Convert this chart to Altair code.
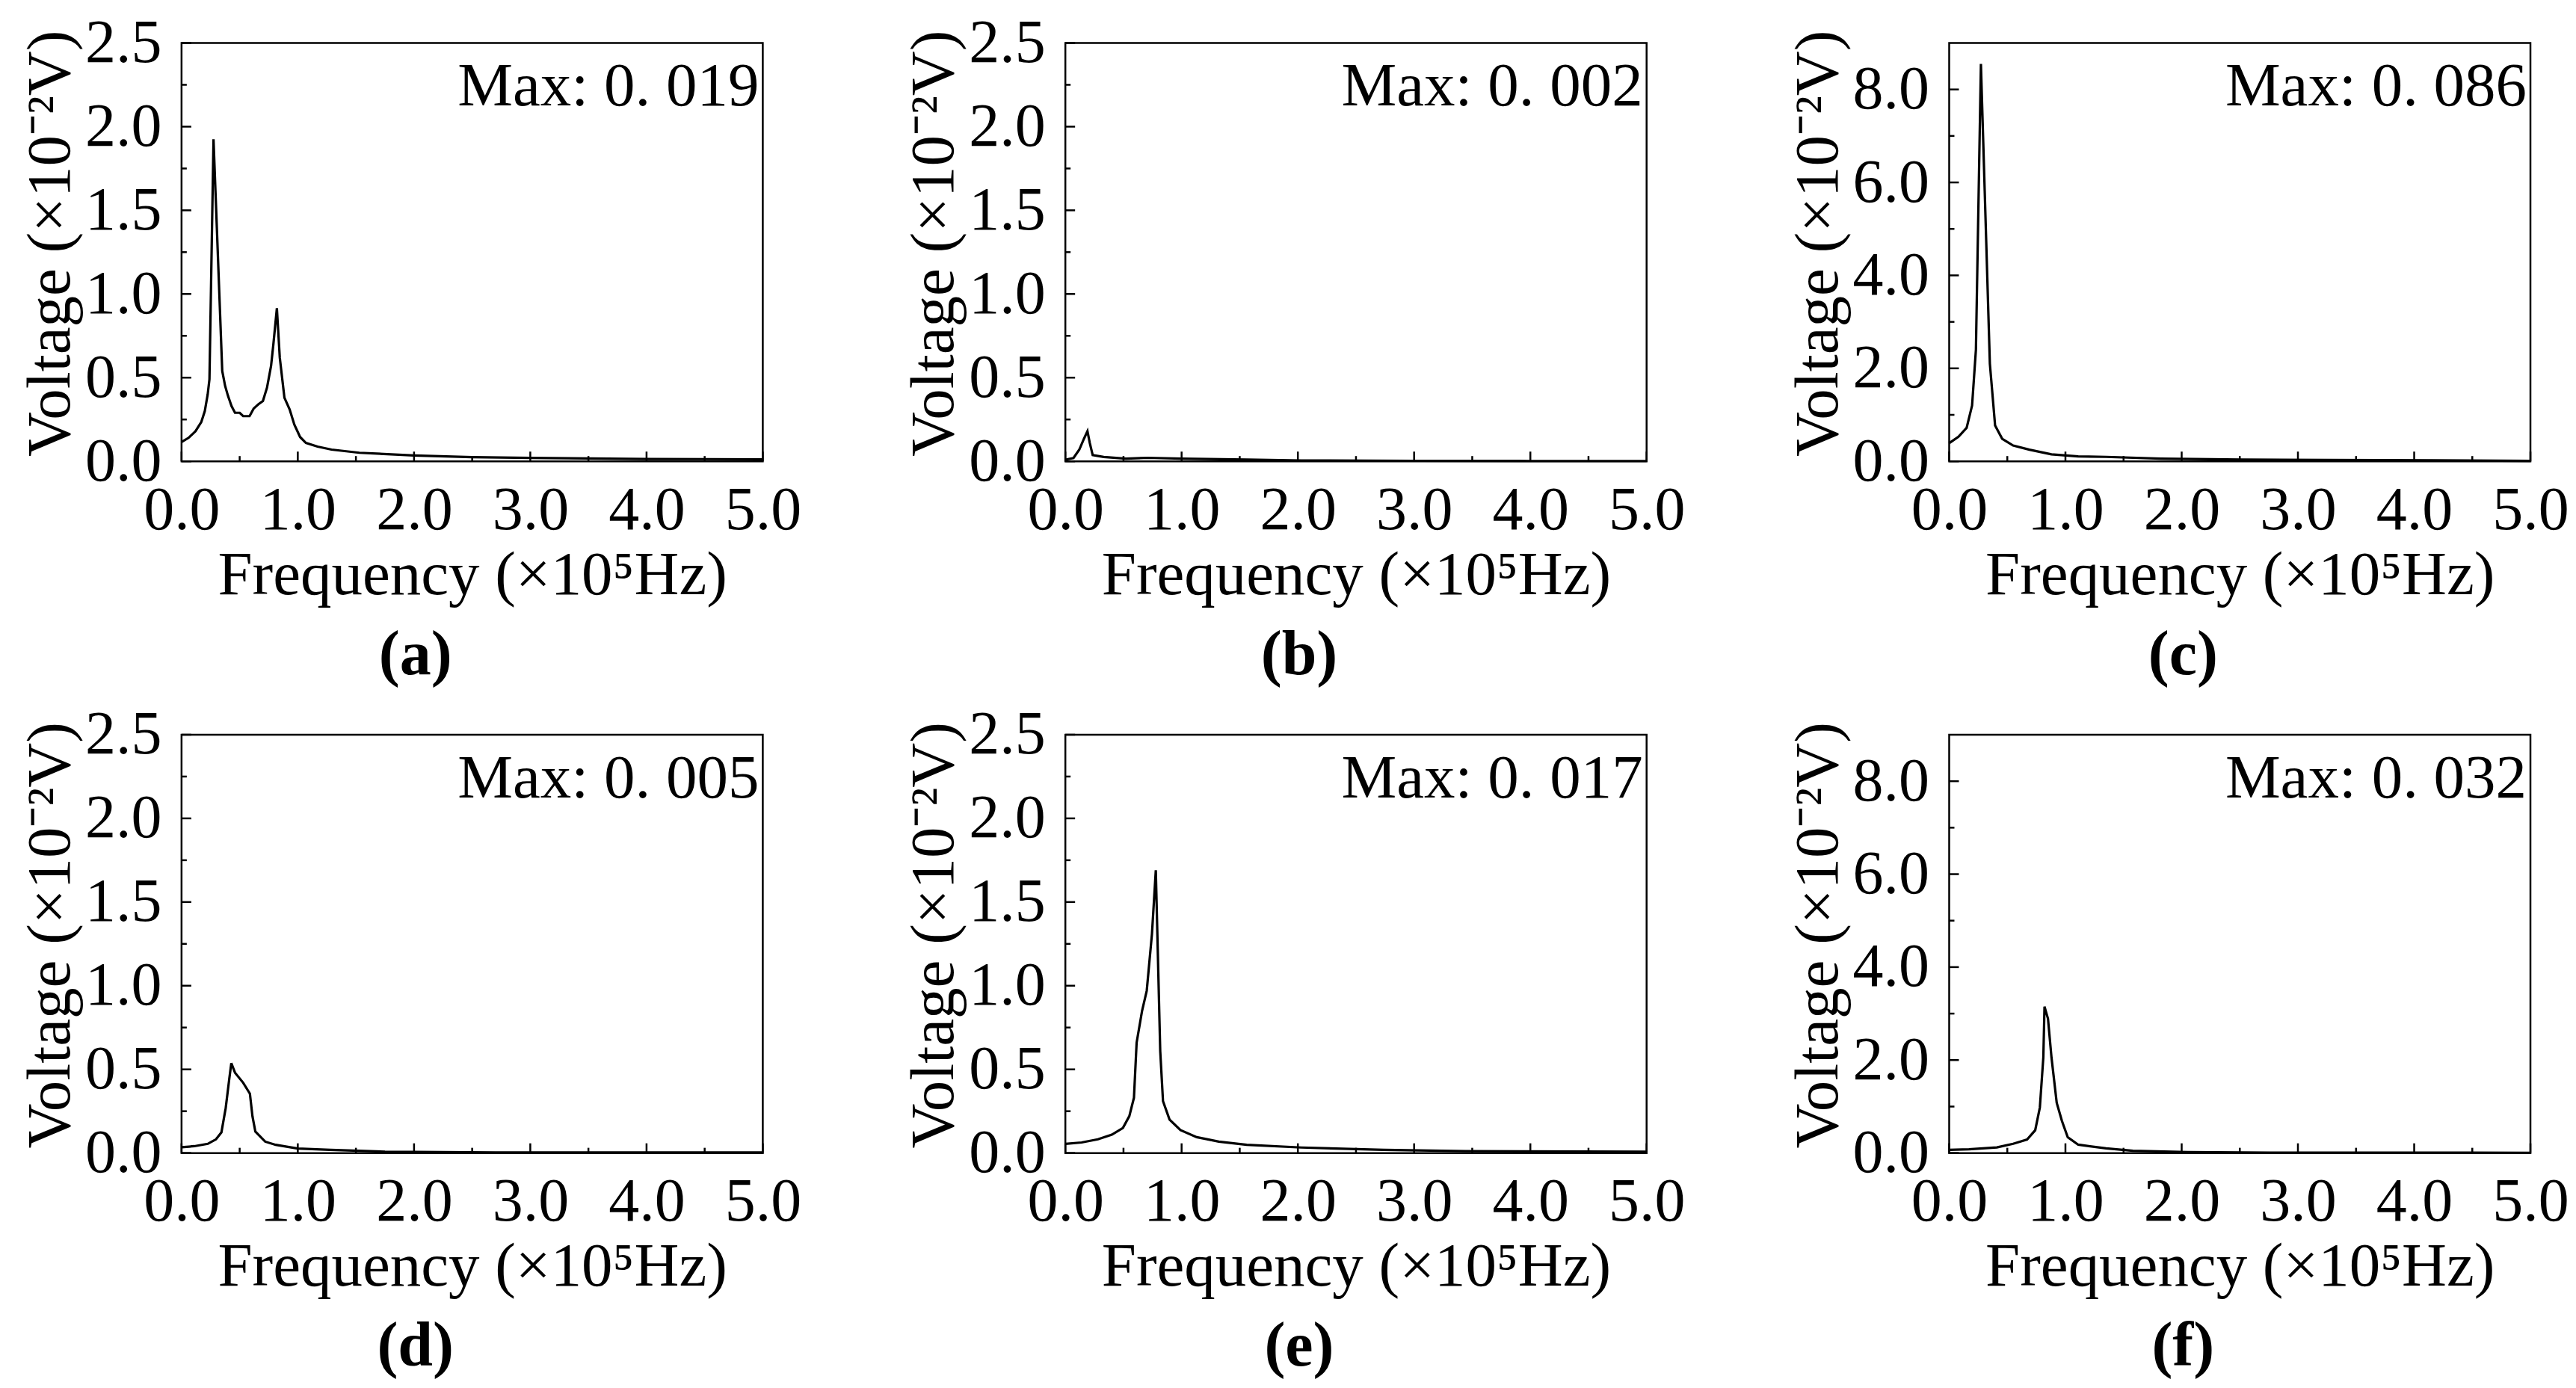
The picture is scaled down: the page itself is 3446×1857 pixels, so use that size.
import altair as alt
import pandas as pd

# ---------------- data ----------------
a_f = [0.00, 0.06, 0.12, 0.17, 0.20, 0.225, 0.24, 0.275, 0.35, 0.375, 0.40, 0.43, 0.46, 0.50, 0.53, 0.585,
       0.62, 0.66, 0.70, 0.735, 0.77, 0.79, 0.82, 0.845, 0.885, 0.93, 0.97, 1.02, 1.07, 1.17, 1.29, 1.53,
       2.00, 2.50, 3.00, 3.50, 4.00, 4.50, 5.00]
a_v = [0.115, 0.14, 0.18, 0.235, 0.30, 0.40, 0.49, 1.925, 0.54, 0.45, 0.39, 0.33, 0.29, 0.29, 0.27, 0.27,
       0.315, 0.34, 0.36, 0.44, 0.57, 0.70, 0.915, 0.62, 0.38, 0.31, 0.22, 0.145, 0.11, 0.088, 0.07, 0.051,
       0.035, 0.025, 0.02, 0.017, 0.014, 0.013, 0.012]

b_f = [0.00, 0.07, 0.12, 0.16, 0.19, 0.21, 0.235, 0.33, 0.52, 0.71, 1.00, 1.56, 2.03, 3.00, 4.00, 5.00]
b_v = [0.01, 0.02, 0.07, 0.135, 0.18, 0.11, 0.037, 0.026, 0.016, 0.021, 0.016, 0.01, 0.005, 0.003, 0.002, 0.002]

c_f = [0.00, 0.08, 0.15, 0.197, 0.23, 0.273, 0.35, 0.395, 0.456, 0.55, 0.69, 0.88, 1.11, 1.35, 1.82, 2.52,
       3.23, 4.17, 5.00]
c_v = [0.39, 0.53, 0.72, 1.2, 2.4, 8.55, 2.1, 0.77, 0.485, 0.34, 0.25, 0.15, 0.105, 0.095, 0.057, 0.038,
       0.03, 0.02, 0.01]

d_f = [0.00, 0.11, 0.226, 0.296, 0.343, 0.38, 0.41, 0.428, 0.46, 0.53, 0.588, 0.61, 0.635, 0.72, 0.81,
       1.00, 1.28, 1.75, 2.70, 5.00]
d_v = [0.035, 0.041, 0.055, 0.082, 0.123, 0.27, 0.44, 0.537, 0.48, 0.42, 0.355, 0.22, 0.128, 0.068, 0.049,
       0.027, 0.019, 0.008, 0.003, 0.003]

e_f = [0.00, 0.14, 0.28, 0.40, 0.495, 0.55, 0.59, 0.613, 0.66, 0.70, 0.745, 0.778, 0.816, 0.84, 0.896,
       0.99, 1.13, 1.32, 1.56, 2.03, 2.74, 3.44, 5.00]
e_v = [0.055, 0.063, 0.082, 0.11, 0.15, 0.22, 0.33, 0.66, 0.85, 0.97, 1.31, 1.69, 0.61, 0.31, 0.2,
       0.137, 0.095, 0.068, 0.049, 0.033, 0.019, 0.011, 0.008]

f_f = [0.00, 0.17, 0.41, 0.55, 0.67, 0.74, 0.78, 0.81, 0.82, 0.85, 0.88, 0.925, 0.97, 1.02, 1.11, 1.35,
       1.58, 2.05, 2.76, 3.88, 5.00]
f_v = [0.07, 0.08, 0.12, 0.2, 0.29, 0.49, 0.98, 2.06, 3.15, 2.89, 2.06, 1.08, 0.69, 0.34, 0.18, 0.1,
       0.05, 0.02, 0.01, 0.01, 0.005]

max_texts = ["Max: 0. 019", "Max: 0. 002", "Max: 0. 086", "Max: 0. 005", "Max: 0. 017", "Max: 0. 032"]
panel_labels = ["(a)", "(b)", "(c)", "(d)", "(e)", "(f)"]

x_domain = [0, 5]
x_major = [0, 1, 2, 3, 4, 5]
x_minor = [0.5, 1.5, 2.5, 3.5, 4.5]
y_small_max = 2.5
y_small_major = [0, 0.5, 1.0, 1.5, 2.0, 2.5]
y_small_minor = [0.25, 0.75, 1.25, 1.75, 2.25]
y_big_max = 9
y_big_major = [0, 2, 4, 6, 8]
y_big_minor = [1, 3, 5, 7]

X_TITLE = "Frequency (×10⁵Hz)"
Y_TITLE = "Voltage (×10⁻²V)"

# ---------------- styling ----------------
W, H = 778, 560
FONT = "Liberation Serif"
MAJ, MIN = 13, 7


def panel(fs, vs, ymax, ymaj, ymin, maxtxt, label):
    xs = alt.Scale(domain=x_domain, nice=False, zero=False)
    ys = alt.Scale(domain=[0, ymax], nice=False)
    xax = alt.Axis(values=x_major, format=".1f", title=X_TITLE, labelFlush=False)
    yax = alt.Axis(values=ymaj, format=".1f", title=Y_TITLE, titleY=H / 2 - 12)

    def X():
        return alt.X("f:Q", scale=xs, axis=xax)

    def Y():
        return alt.Y("v:Q", scale=ys, axis=yax)

    df = pd.DataFrame({"f": fs, "v": vs})
    line = alt.Chart(df).mark_line(color="black", strokeWidth=3.2).encode(x=X(), y=Y())
    ytick = alt.Chart(pd.DataFrame({"v": ymaj})).mark_rule(color="black", strokeWidth=2.5).encode(
        y=Y(), x=alt.value(0), x2=alt.value(MAJ))
    ytick_m = alt.Chart(pd.DataFrame({"v": ymin})).mark_rule(color="black", strokeWidth=2.5).encode(
        y=Y(), x=alt.value(0), x2=alt.value(MIN))
    xtick = alt.Chart(pd.DataFrame({"f": x_major})).mark_rule(color="black", strokeWidth=2.5).encode(
        x=X(), y=alt.value(H), y2=alt.value(H - MAJ))
    xtick_m = alt.Chart(pd.DataFrame({"f": x_minor})).mark_rule(color="black", strokeWidth=2.5).encode(
        x=X(), y=alt.value(H), y2=alt.value(H - MIN))
    txt = alt.Chart(pd.DataFrame({"f": [x_domain[1]], "v": [ymax], "t": [maxtxt]})).mark_text(
        align="right", baseline="alphabetic", dx=-5, dy=84, font=FONT, fontSize=83, color="black"
    ).encode(x=X(), y=Y(), text="t:N")
    return alt.layer(line, ytick, ytick_m, xtick, xtick_m, txt).properties(
        width=W, height=H,
        title=alt.TitleParams(label, orient="bottom", font=FONT, fontSize=84, fontWeight="bold",
                              color="black", offset=25, dx=-76),
    )


specs = [
    (a_f, a_v, y_small_max, y_small_major, y_small_minor),
    (b_f, b_v, y_small_max, y_small_major, y_small_minor),
    (c_f, c_v, y_big_max, y_big_major, y_big_minor),
    (d_f, d_v, y_small_max, y_small_major, y_small_minor),
    (e_f, e_v, y_small_max, y_small_major, y_small_minor),
    (f_f, f_v, y_big_max, y_big_major, y_big_minor),
]
panels = [panel(*s, max_texts[i], panel_labels[i]) for i, s in enumerate(specs)]

chart = alt.concat(*panels, columns=3, spacing=alt.RowColnumber(row=366, column=405), bounds="flush").configure_view(
    stroke="black", strokeWidth=2.5
).configure_axis(
    labelFont=FONT, labelFontSize=82, labelColor="black",
    titleFont=FONT, titleFontSize=83, titleFontWeight="normal", titleColor="black",
    ticks=False, domain=False, grid=False,
).configure_axisX(labelPadding=25, titlePadding=5).configure_axisY(labelPadding=27, titlePadding=4).properties(
    padding={"left": 17, "top": 6, "right": 0, "bottom": 0}, background="white"
)

chart.save("out.html", embed_options={"renderer": "svg", "actions": False})
